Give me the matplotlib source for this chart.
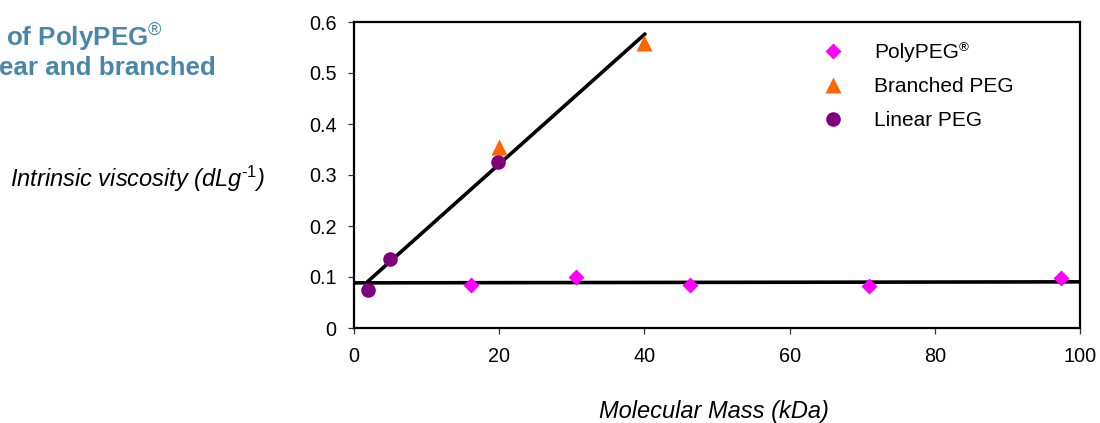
import matplotlib
matplotlib.use("Agg")
import matplotlib.pyplot as plt

plt.rcParams['font.family'] = ['Liberation Sans', 'DejaVu Sans']
plt.rcParams['mathtext.fontset'] = 'custom'
plt.rcParams['mathtext.rm'] = 'Liberation Sans'
plt.rcParams['mathtext.it'] = 'Liberation Sans:italic'
plt.rcParams['mathtext.bf'] = 'Liberation Sans:bold'

# ---- data ----
poly_x = [16.1, 30.6, 46.3, 70.9, 97.4]
poly_y = [0.084, 0.100, 0.084, 0.082, 0.098]
branched_x = [20.0, 39.9]
branched_y = [0.354, 0.559]
linear_x = [1.9, 5.0, 19.8]
linear_y = [0.075, 0.135, 0.325]
trend_steep_x = [1.84, 40.08]
trend_steep_y = [0.0905, 0.5765]
trend_flat_x = [0, 100]
trend_flat_y = [0.0885, 0.0905]
xticks = [0, 20, 40, 60, 80, 100]
xticklabels = ['0', '20', '40', '60', '80', '100']
yticks = [0, 0.1, 0.2, 0.3, 0.4, 0.5, 0.6]
yticklabels = ['0', '0.1', '0.2', '0.3', '0.4', '0.5', '0.6']

W, H = 1100, 423
fig = plt.figure(figsize=(W / 100, H / 100), dpi=100)
ax = fig.add_axes([354 / W, (H - 328) / H, 726 / W, 306 / H])

ax.plot(trend_steep_x, trend_steep_y, color='black', lw=2.6, solid_capstyle='round', zorder=2)
ax.plot(trend_flat_x, trend_flat_y, color='black', lw=2.6, zorder=2)

ax.plot(poly_x, poly_y, linestyle='none', marker='D', ms=8.0, color='#ff00ff',
        mec='none', label='PolyPEG', zorder=3)
ax.plot(branched_x, branched_y, linestyle='none', marker='^', ms=12, color='#ff6600',
        mec='none', label='Branched PEG', zorder=3)
ax.plot(linear_x, linear_y, linestyle='none', marker='o', ms=10.5, color='#800080',
        mec='none', label='Linear PEG', zorder=3)

ax.set_xlim(0, 100)
ax.set_ylim(0, 0.6)
ax.set_xticks(xticks)
ax.set_xticklabels(xticklabels)
ax.set_yticks(yticks)
ax.set_yticklabels(yticklabels)
ax.tick_params(axis='both', direction='out', length=4.5, width=0.9, color='#333333',
               labelsize=14.3)
ax.tick_params(axis='x', pad=9)
ax.tick_params(axis='y', pad=8)
for s in ax.spines.values():
    s.set_linewidth(1.6)
    s.set_color('black')

leg = ax.legend(loc='upper left', bbox_to_anchor=(823 / W, (H - 43) / H),
                bbox_transform=fig.transFigure, frameon=False, fontsize=15,
                borderpad=0, borderaxespad=0, handlelength=1.0, handletextpad=1.47,
                labelspacing=0.72, numpoints=1)

# registered mark as superscript after the first legend label
fig.canvas.draw()
bb = leg.get_texts()[0].get_window_extent(renderer=fig.canvas.get_renderer())
fig.text((bb.x1 - 1) / W, (bb.y1 + 1) / H, '®', fontsize=9.5,
         ha='left', va='top')

fig.text(10 / W, (H - 187) / H, r'Intrinsic viscosity (dLg$^{\mathit{‐1}}$)',
         fontsize=17, style='italic', ha='left', va='baseline')
fig.text(714 / W, (H - 418) / H, 'Molecular Mass (kDa)', fontsize=17,
         style='italic', ha='center', va='baseline')

title_color = '#4a86ab'
fig.text(6 / W, (H - 47) / H, r'of PolyPEG$^{\mathrm{®}}$', fontsize=18.7,
         fontweight='bold', color=title_color, ha='left', va='baseline')
fig.text(-1 / W, (H - 75) / H, 'ear and branched', fontsize=18.7,
         fontweight='bold', color=title_color, ha='left', va='baseline')

fig.savefig('out.png', dpi=100)
